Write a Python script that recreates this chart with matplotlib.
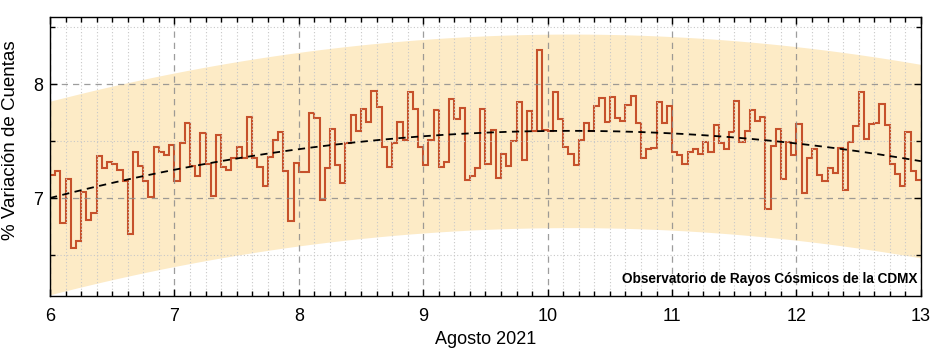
import numpy as np
import matplotlib
matplotlib.use('Agg')
import matplotlib.pyplot as plt
from matplotlib.ticker import MultipleLocator

# Hourly count variation (%), 6-13 August 2021, one list per day
day_06 = [7.20, 7.24, 6.78, 7.17, 6.56, 6.62, 7.05, 6.81, 6.87, 7.37, 7.26, 7.32,
          7.30, 7.25, 7.15, 6.68, 7.40, 7.28, 7.15, 7.01, 7.45, 7.40, 7.38, 7.47]
day_07 = [7.15, 7.48, 7.66, 7.28, 7.19, 7.57, 7.30, 7.02, 7.55, 7.27, 7.25, 7.35,
          7.45, 7.35, 7.71, 7.35, 7.27, 7.11, 7.36, 7.51, 7.58, 7.24, 6.80, 7.31]
day_08 = [7.23, 7.23, 7.75, 7.70, 6.98, 7.26, 7.61, 7.29, 7.13, 7.48, 7.73, 7.59,
          7.78, 7.67, 7.94, 7.80, 7.45, 7.27, 7.48, 7.67, 7.51, 7.93, 7.78, 7.45]
day_09 = [7.29, 7.51, 7.77, 7.27, 7.32, 7.87, 7.69, 7.79, 7.16, 7.19, 7.26, 7.78,
          7.30, 7.60, 7.18, 7.39, 7.28, 7.50, 7.84, 7.33, 7.76, 7.59, 8.30, 7.60]
day_10 = [7.59, 7.93, 7.69, 7.45, 7.39, 7.29, 7.51, 7.66, 7.59, 7.81, 7.88, 7.67,
          7.89, 7.70, 7.68, 7.82, 7.90, 7.66, 7.35, 7.43, 7.44, 7.84, 7.66, 7.81]
day_11 = [7.40, 7.38, 7.30, 7.40, 7.43, 7.39, 7.49, 7.40, 7.64, 7.48, 7.43, 7.58,
          7.85, 7.49, 7.59, 7.77, 7.68, 7.71, 6.90, 7.46, 7.61, 7.17, 7.49, 7.38]
day_12 = [7.65, 7.04, 7.35, 7.43, 7.20, 7.15, 7.26, 7.22, 7.44, 7.07, 7.49, 7.63,
          7.93, 7.52, 7.65, 7.66, 7.83, 7.64, 7.30, 7.21, 7.11, 7.58, 7.24, 7.16]

first_day = 6
last_day = 13
band_half_width = 0.85
x_ticks = [6, 7, 8, 9, 10, 11, 12, 13]

values = np.array(day_06 + day_07 + day_08 + day_09 + day_10 + day_11 + day_12)
edges = np.linspace(first_day, last_day, len(values) + 1)
mids = 0.5 * (edges[:-1] + edges[1:])

# quadratic trend through the hourly values
coef = np.polyfit(mids, values, 2)
xs = np.linspace(first_day, last_day, 400)
trend = np.polyval(coef, xs)

label_font = ['Liberation Sans', 'DejaVu Sans']

fig = plt.figure(figsize=(9.33, 3.54), dpi=100)
ax = fig.add_axes([0.0536, 0.164, 0.9334, 0.788])

ax.fill_between(xs, trend - band_half_width, trend + band_half_width,
                color='#fdebc6', linewidth=0)
ax.stairs(values, edges, color='#c6512b', linewidth=1.5, baseline=None)
ax.plot(xs, trend, color='black', linestyle=(0, (4, 3)), linewidth=1.3)

ax.set_xlim(first_day, last_day)
ax.set_ylim(6.14, 8.59)
ax.set_xticks(x_ticks)
ax.xaxis.set_minor_locator(MultipleLocator(0.125))
ax.yaxis.set_major_locator(MultipleLocator(1))
ax.yaxis.set_minor_locator(MultipleLocator(0.5))

ax.grid(which='major', color='#8c8c8c', linestyle=(0, (5, 4)), linewidth=0.9, alpha=0.85)
ax.grid(which='minor', color='#c8c8c8', linestyle=(0, (1, 2)), linewidth=0.8)

ax.tick_params(which='both', direction='in', top=True, right=True, width=1.0)
ax.tick_params(which='major', length=5)
ax.tick_params(which='minor', length=3.5)
ax.tick_params(axis='x', pad=9)
ax.tick_params(axis='y', pad=5)
for lbl in ax.get_xticklabels() + ax.get_yticklabels():
    lbl.set_family(label_font)
    lbl.set_fontsize(13)
for sp in ax.spines.values():
    sp.set_linewidth(1.0)

ax.set_xlabel('Agosto 2021', family=label_font, fontsize=13, labelpad=4)
ax.set_ylabel('% Variación de Cuentas', family=label_font, fontsize=13.5)
ax.yaxis.set_label_coords(-0.036, 0.56)

ax.text(0.996, 0.035, 'Observatorio de Rayos Cósmicos de la CDMX', transform=ax.transAxes,
        ha='right', va='bottom', fontsize=9.8, fontweight='bold',
        family=['Liberation Sans', 'DejaVu Sans'])

fig.savefig('out.png', dpi=100)
